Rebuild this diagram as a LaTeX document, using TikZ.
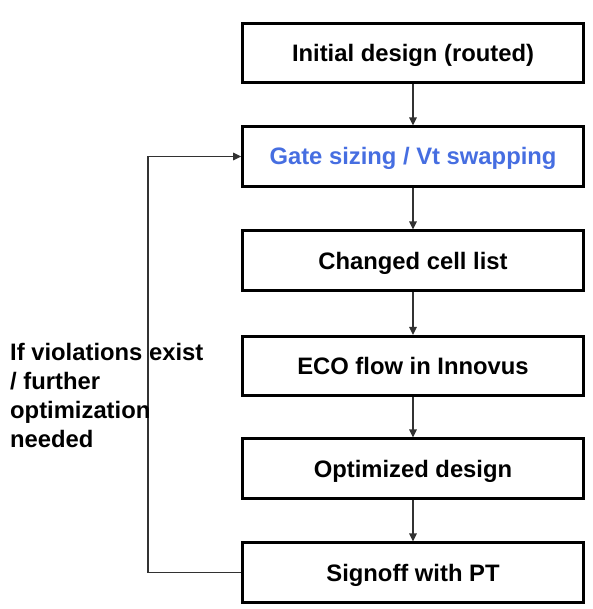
\documentclass[tikz,border=0pt]{standalone}
\usepackage{fontspec}
\setmainfont{Liberation Sans}
\usetikzlibrary{arrows.meta}
\definecolor{stepblue}{RGB}{70,110,225}
\definecolor{connline}{RGB}{50,50,50}
\begin{document}
\begin{tikzpicture}[x=1pt,y=-1pt,
  stepbox/.style={draw=black, line width=2.6pt, minimum width=341pt, minimum height=59.5pt, inner sep=0pt, text height=17pt, text depth=0pt, font=\fontsize{23.8}{28}\selectfont\bfseries},
  conn/.style={draw=connline, line width=1.6pt, -{Triangle[length=8pt,width=7.5pt]}},
  note/.style={font=\fontsize{23.8}{28.8}\selectfont\bfseries, align=left, anchor=north west, inner sep=0pt}]
\useasboundingbox (0,0) rectangle (592,609);
\node[stepbox] (b1) at (413,53) {Initial design (routed)};
\node[stepbox, text=stepblue] (b2) at (413,156.5) {Gate sizing / Vt swapping};
\node[stepbox] (b3) at (413,260.5) {Changed cell list};
\node[stepbox] (b4) at (413,366) {ECO flow in Innovus};
\node[stepbox] (b5) at (413,468.5) {Optimized design};
\node[stepbox] (b6) at (413,572.5) {Signoff with PT};
\draw[conn] (b1) -- (b2);
\draw[conn] (b2) -- (b3);
\draw[conn] (b3) -- (b4);
\draw[conn] (b4) -- (b5);
\draw[conn] (b5) -- (b6);
\draw[conn] (b6.west) -- ++(-93,0) |- (b2.west);
\node[note] (lbl) at (10,343.5) {If violations exist\\/ further\\optimization\\needed};
\end{tikzpicture}
\end{document}
